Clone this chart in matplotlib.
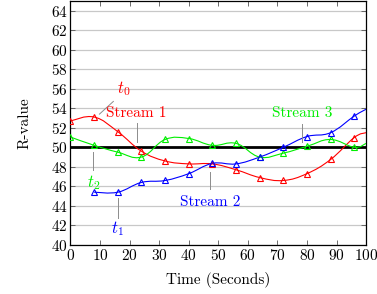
import numpy as np
import matplotlib
matplotlib.use("Agg")
import matplotlib.pyplot as plt
from matplotlib.path import Path
from matplotlib.patches import PathPatch

plt.rcParams['font.family'] = 'serif'
plt.rcParams['font.serif'] = ['cmr10', 'DejaVu Serif']
plt.rcParams['mathtext.fontset'] = 'cm'
plt.rcParams['axes.formatter.use_mathtext'] = True

# data
x_red = [0, 8, 16, 24, 32, 40, 48, 56, 64, 72, 80, 88, 96, 100]
y_red = [52.7, 53.1, 51.6, 49.6, 48.6, 48.3, 48.3, 47.7, 46.9, 46.6, 47.3, 48.75, 51.0, 51.5]

x_blue = [8, 16, 24, 32, 40, 48, 56, 64, 72, 80, 88, 96, 100]
y_blue = [45.4, 45.4, 46.4, 46.6, 47.3, 48.35, 48.3, 49.0, 50.0, 51.1, 51.5, 53.2, 53.9]

x_green = [0, 8, 16, 24, 32, 40, 48, 56, 64, 72, 80, 88, 96, 100]
y_green = [51.05, 50.2, 49.5, 49.0, 50.8, 50.9, 50.2, 50.4, 49.0, 49.4, 50.1, 50.8, 50.0, 50.4]

threshold = 50

RED = '#ff0000'
BLUE = '#0000ff'
GREEN = '#00ee00'
PIN = '#8c8c8c'


def smooth_path(xs, ys, k=0.2):
    # cubic bezier through the points (like pgfplots "smooth")
    p = np.column_stack([xs, ys]).astype(float)
    verts = [p[0]]
    codes = [Path.MOVETO]
    n = len(p)
    for i in range(n - 1):
        prev = p[i - 1] if i > 0 else p[i]
        nxt = p[i + 2] if i + 2 < n else p[i + 1]
        c1 = p[i] + (p[i + 1] - prev) * k
        c2 = p[i + 1] - (nxt - p[i]) * k
        verts += [c1, c2, p[i + 1]]
        codes += [Path.CURVE4] * 3
    return Path(verts, codes)


fig = plt.figure(figsize=(3.77, 2.94), dpi=100)
ax = fig.add_axes([0.187, 0.167, 0.784, 0.830])

ax.set_xlim(0, 100)
ax.set_ylim(40, 65)
ax.set_xticks(np.arange(0, 101, 10))
ax.set_yticks(np.arange(40, 65, 2))
ax.grid(axis='y', color='#c8c8c8', linewidth=0.9)
ax.set_axisbelow(True)
ax.tick_params(direction='in', top=True, right=True, length=3.5, width=0.6,
               labelsize=11, color='#555555', pad=2)
for s in ax.spines.values():
    s.set_linewidth(0.9)

ax.axhline(threshold, color='black', linewidth=2.0, zorder=2)

for xs, ys, c in [(x_red, y_red, RED), (x_green, y_green, GREEN), (x_blue, y_blue, BLUE)]:
    ax.add_patch(PathPatch(smooth_path(xs, ys), facecolor='none', edgecolor=c,
                           linewidth=0.8, zorder=3))
    ax.plot(xs[:-1], ys[:-1], linestyle='none', marker='^', markersize=4.5,
            markerfacecolor='none', markeredgecolor=c, markeredgewidth=0.8, zorder=4)

# annotations with pins
ax.plot([9.8, 14.5], [53.4, 54.7], color=PIN, linewidth=0.7, zorder=3)
ax.text(18.1, 56.0, r'$t_0$', color=RED, fontsize=12, ha='center', va='center')

ax.plot([22.4, 22.4], [52.5, 50.5], color=PIN, linewidth=0.7, zorder=3)
ax.text(22.2, 53.55, 'Stream 1', color=RED, fontsize=11, ha='center', va='center')

ax.plot([7.7, 7.7], [49.5, 47.7], color=PIN, linewidth=0.7, zorder=3)
ax.text(7.7, 46.4, r'$t_2$', color=GREEN, fontsize=12, ha='center', va='center')

ax.plot([16.0, 16.0], [44.8, 42.8], color=PIN, linewidth=0.7, zorder=3)
ax.text(15.8, 41.7, r'$t_1$', color=BLUE, fontsize=12, ha='center', va='center')

ax.plot([47.3, 47.3], [47.5, 45.7], color=PIN, linewidth=0.7, zorder=3)
ax.text(47.3, 44.4, 'Stream 2', color=BLUE, fontsize=11, ha='center', va='center')

ax.plot([78.2, 78.2], [52.4, 50.55], color=PIN, linewidth=0.7, zorder=3)
ax.text(78.3, 53.45, 'Stream 3', color=GREEN, fontsize=11, ha='center', va='center')

ax.set_xlabel('Time (Seconds)', fontsize=11, labelpad=7)
ax.set_ylabel('R-value', fontsize=11, labelpad=14)

fig.savefig('out.png', dpi=100)
